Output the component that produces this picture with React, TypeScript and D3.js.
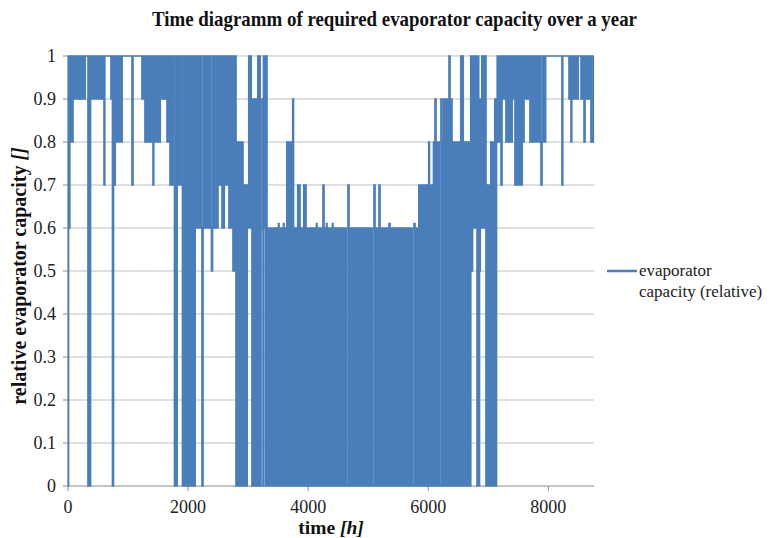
import React from "react";
import * as d3 from "d3";

// Envelope of the hourly series: [startHour, endHour, low, high]
const capacityRuns: [number, number, number, number][] = [
  [0, 17, 0, 1], [17, 42, 0.6, 1], [42, 83, 0.8, 1], [83, 300, 0.9, 1], [300, 333, 1, 1],
  [333, 375, 0, 1], [375, 600, 0.9, 1], [600, 625, 0.7, 1], [625, 716, 1, 1], [716, 741, 0.9, 1],
  [741, 774, 0, 1], [774, 799, 0.7, 1], [799, 916, 0.8, 1], [916, 1066, 1, 1], [1066, 1099, 0.7, 1],
  [1099, 1232, 1, 1], [1232, 1282, 0.9, 1], [1282, 1416, 0.8, 1], [1416, 1441, 0.7, 1], [1441, 1549, 0.8, 1],
  [1549, 1649, 0.9, 1], [1649, 1699, 0.8, 1], [1699, 1774, 0.7, 1], [1774, 1832, 0, 1], [1832, 1907, 0.7, 1],
  [1907, 2132, 0, 1], [2132, 2232, 0.6, 1], [2232, 2265, 0, 1], [2265, 2390, 0.6, 1], [2390, 2423, 0.5, 1],
  [2423, 2498, 0.6, 1], [2498, 2565, 0.7, 1], [2565, 2615, 0.6, 1], [2615, 2681, 0.7, 1], [2681, 2748, 0.6, 1],
  [2748, 2798, 0.5, 1], [2798, 2914, 0, 0.8], [2914, 2998, 0, 0.7], [2998, 3064, 0.6, 1], [3064, 3148, 0, 0.9],
  [3148, 3214, 0, 1], [3214, 3248, 0.6, 0.9], [3248, 3264, 0, 1], [3264, 3289, 0.6, 1], [3289, 3314, 0, 1],
  [3314, 3497, 0, 0.6], [3497, 3514, 0, 0.61], [3514, 3581, 0, 0.6], [3581, 3597, 0, 0.61], [3597, 3631, 0, 0.6],
  [3631, 3730, 0, 0.8], [3730, 3755, 0, 0.9], [3755, 3814, 0, 0.6], [3814, 3864, 0, 0.7], [3864, 3914, 0, 0.6],
  [3914, 3964, 0, 0.7], [3964, 4130, 0, 0.6], [4130, 4147, 0, 0.61], [4147, 4230, 0, 0.6], [4230, 4263, 0, 0.7],
  [4263, 4297, 0, 0.6], [4297, 4313, 0, 0.61], [4313, 4397, 0, 0.6], [4397, 4413, 0, 0.61], [4413, 4646, 0, 0.6],
  [4646, 4680, 0, 0.7], [4680, 5079, 0, 0.6], [5079, 5113, 0, 0.7], [5113, 5163, 0, 0.6], [5163, 5196, 0, 0.7],
  [5196, 5329, 0, 0.6], [5329, 5363, 0, 0.61], [5363, 5746, 0, 0.6], [5746, 5779, 0, 0.61], [5779, 5829, 0, 0.6],
  [5829, 5995, 0, 0.7], [5995, 6020, 0, 0.8], [6020, 6079, 0, 0.7], [6079, 6095, 0, 0.8], [6095, 6129, 0, 0.9],
  [6129, 6195, 0, 0.8], [6195, 6229, 0, 0.9], [6229, 6245, 0, 0.8], [6245, 6329, 0, 0.9], [6329, 6362, 0, 1],
  [6362, 6395, 0, 0.9], [6395, 6528, 0, 0.8], [6528, 6595, 0, 1], [6595, 6695, 0, 0.8], [6695, 6720, 0, 1],
  [6720, 6753, 0.5, 1], [6753, 6812, 0.6, 1], [6812, 6853, 0, 1], [6853, 6878, 0.5, 0.9], [6878, 6961, 0.6, 1],
  [6961, 7028, 0, 0.7], [7028, 7095, 0, 0.8], [7095, 7136, 0, 0.9], [7136, 7161, 0.9, 1], [7161, 7211, 0.8, 1],
  [7211, 7244, 0.7, 1], [7244, 7294, 0.9, 1], [7294, 7411, 0.8, 1], [7411, 7444, 0.9, 1], [7444, 7578, 0.7, 1],
  [7578, 7611, 0.8, 1], [7611, 7694, 0.9, 1], [7694, 7877, 0.8, 1], [7877, 7911, 0.7, 1], [7911, 7969, 0.8, 1],
  [7969, 8227, 1, 1], [8227, 8252, 0.7, 1], [8252, 8344, 1, 1], [8344, 8377, 0.9, 1], [8377, 8402, 0.8, 1],
  [8402, 8510, 0.9, 1], [8510, 8544, 1, 1], [8544, 8594, 0.9, 1], [8594, 8627, 0.8, 1], [8627, 8693, 0.9, 1],
  [8693, 8710, 1, 1], [8710, 8760, 0.8, 1],
];

const yTickValues = [0, 0.1, 0.2, 0.3, 0.4, 0.5, 0.6, 0.7, 0.8, 0.9, 1];
const yTickLabels = ["0", "0.1", "0.2", "0.3", "0.4", "0.5", "0.6", "0.7", "0.8", "0.9", "1"];
const xTickValues = [0, 2000, 4000, 6000, 8000];
const xTickLabels = ["0", "2000", "4000", "6000", "8000"];

const titleText = "Time diagramm of required evaporator capacity over a year";
const seriesName = ["evaporator", "capacity (relative)"];

const W = 773, H = 538;
const M = { left: 68, right: 594, top: 56, bottom: 486 };
const BLUE = "#4a7ebb";
const FONT = "'Liberation Serif', 'Times New Roman', Times, serif";

export default function App() {
  const x = d3.scaleLinear().domain([0, 8760]).range([M.left, M.right]);
  const y = d3.scaleLinear().domain([0, 1]).range([M.bottom, M.top]);

  const pts: [number, number][] = [];
  for (const [h0, h1, lo, hi] of capacityRuns) {
    if (lo === hi) { pts.push([h0, hi]); continue; }
    const n = Math.max(2, Math.round((h1 - h0) / 14));
    for (let i = 0; i < n; i++) pts.push([h0 + (i * (h1 - h0)) / n, i % 2 === 0 ? lo : hi]);
  }
  pts.push([8760, 1]);
  const line = d3.line<[number, number]>().x(d => x(d[0])).y(d => y(d[1])).curve(d3.curveStepAfter);
  const tf = { fontFamily: FONT };

  return (
    <svg width={W} height={H} style={{ position: "absolute", left: 0, top: 0, background: "#fff", fontFamily: FONT }}>
      <text x={394.5} y={26} textAnchor="middle" fontSize={21} fontWeight="bold" fill="#111" style={tf}
        textLength={485} lengthAdjust="spacingAndGlyphs">{titleText}</text>
      {yTickValues.map((v, i) => (
        <g key={"y" + i}>
          {v > 0 && <line x1={M.left} x2={M.right} y1={y(v)} y2={y(v)} stroke="#bfbfbf" strokeWidth={1} />}
          <line x1={M.left - 5} x2={M.left} y1={y(v)} y2={y(v)} stroke="#8c8c8c" strokeWidth={1} />
          <text x={56} y={y(v)} dy="0.35em" textAnchor="end" fontSize={18} fill="#222" style={tf}>{yTickLabels[i]}</text>
        </g>
      ))}
      <line x1={M.left} x2={M.left} y1={M.top} y2={M.bottom} stroke="#8c8c8c" strokeWidth={1} />
      <line x1={M.left} x2={M.right} y1={M.bottom} y2={M.bottom} stroke="#8c8c8c" strokeWidth={1} />
      {xTickValues.map((v, i) => (
        <g key={"x" + i}>
          <line x1={x(v)} x2={x(v)} y1={M.bottom} y2={M.bottom + 5} stroke="#8c8c8c" strokeWidth={1} />
          <text x={x(v)} y={513} textAnchor="middle" fontSize={18} fill="#222" style={tf}>{xTickLabels[i]}</text>
        </g>
      ))}
      <path d={line(pts) ?? ""} fill="none" stroke={BLUE} strokeWidth={1.7} />
      <text x={331} y={534} textAnchor="middle" fontSize={19.5} fontWeight="bold" fill="#111" style={tf}>
        time <tspan fontStyle="italic">[h]</tspan>
      </text>
      <text transform="translate(26,276) rotate(-90)" textAnchor="middle" fontSize={20} fontWeight="bold" fill="#111" style={tf}>
        relative evaporator capacity <tspan fontStyle="italic">[]</tspan>
      </text>
      <line x1={607} x2={637} y1={271} y2={271} stroke={BLUE} strokeWidth={2.5} />
      <text x={639} y={276} fontSize={17} fill="#222" style={tf}>{seriesName[0]}</text>
      <text x={639} y={297} fontSize={17} fill="#222" style={tf}>{seriesName[1]}</text>
    </svg>
  );
}
